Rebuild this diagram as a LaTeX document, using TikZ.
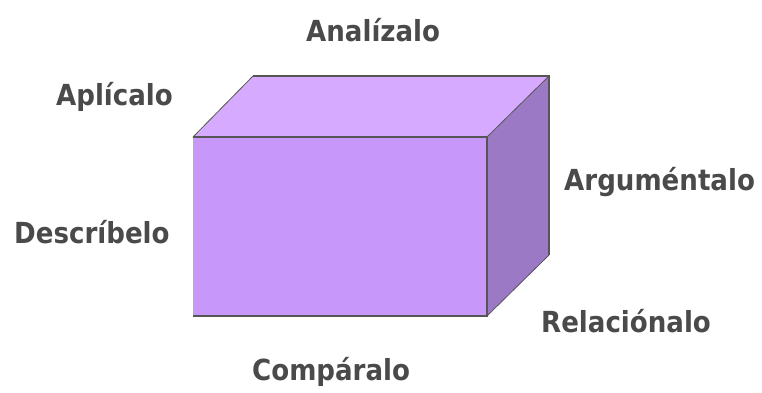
\documentclass[tikz,border=0pt]{standalone}
\usepackage{fontspec}
\setmainfont{DejaVu Sans Condensed}
\definecolor{frontc}{HTML}{C897FA}
\definecolor{topc}{HTML}{D6AAFF}
\definecolor{sidec}{HTML}{9C79C4}
\definecolor{edgec}{HTML}{555555}
\definecolor{txtc}{HTML}{4A4A4A}
\begin{document}
\begin{tikzpicture}[x=1pt,y=-1pt,
  lbl/.style={font=\fontsize{29}{34}\selectfont\bfseries, text=txtc, inner sep=0pt, anchor=base west}]
\useasboundingbox (0,0) rectangle (762,392);
\coordinate (A) at (193,137);
\coordinate (B) at (487,137);
\coordinate (C) at (487,316);
\coordinate (D) at (193,316);
\coordinate (E) at (253,76);
\coordinate (F) at (549,76);
\coordinate (G) at (549,255);
\fill[topc] (A) -- (E) -- (F) -- (B) -- cycle;
\fill[sidec] (B) -- (F) -- (G) -- (C) -- cycle;
\fill[frontc] (A) -- (B) -- (C) -- (D) -- cycle;
\draw[edgec, line width=1.2pt] (E) -- (F) -- (G);
\draw[edgec, line width=0.8pt] (A) -- (E);
\draw[edgec, line width=0.8pt] (B) -- (F);
\draw[edgec, line width=0.8pt] (C) -- (G);
\draw[edgec, line width=1.2pt] (A) -- (B) -- (C) -- (D);
\node[lbl] (analiza) at (306,41) {Analízalo};
\node[lbl] (aplica) at (56,105) {Aplícalo};
\node[lbl] (argumenta) at (564,190) {Arguméntalo};
\node[lbl] (describe) at (14,243) {Descríbelo};
\node[lbl] (relaciona) at (541,332) {Relaciónalo};
\node[lbl] (compara) at (252,380) {Compáralo};
\end{tikzpicture}
\end{document}
